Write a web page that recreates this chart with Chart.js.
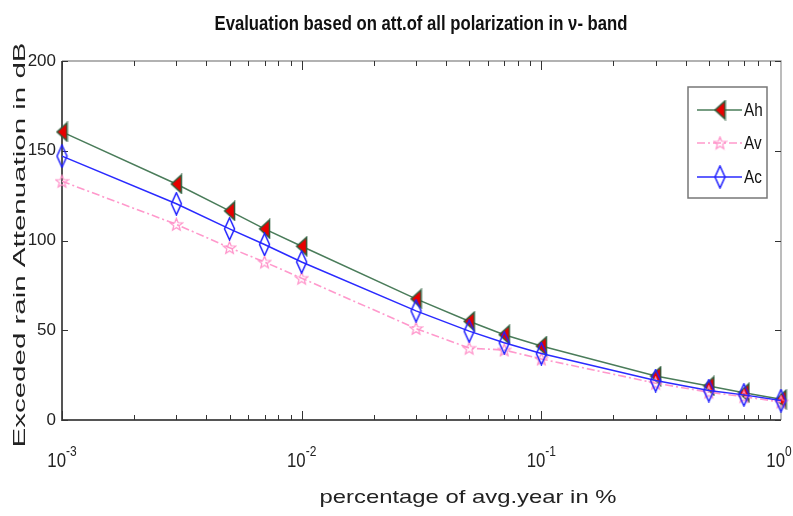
<!DOCTYPE html>
<html>
<head>
<meta charset="utf-8">
<script src="https://cdn.jsdelivr.net/npm/chart.js@4.4.1/dist/chart.umd.min.js"></script>
<style>
  body { margin: 0; background: #fff; }
  canvas { display: block; }
</style>
</head>
<body>
<canvas id="attChart" width="793" height="516"></canvas>
<script>
// percentage of time (x, log scale)
var percentValues = [0.001, 0.003, 0.005, 0.007, 0.01, 0.03, 0.05, 0.07, 0.1, 0.3, 0.5, 0.7, 1];
// attenuation (dB) for each polarization
var ahValues = [160.5, 131.5, 116.5, 106.5, 96.8, 67.5, 55, 47.5, 41.2, 24.5, 19, 15.2, 11.5];
var avValues = [133, 109, 96, 88, 79, 51, 40, 39, 34, 20.5, 15.5, 13, 10];
var acValues = [147, 120.5, 106.5, 97.8, 88, 60.8, 49.5, 43, 37, 22, 16.4, 14, 10.8];
var seriesNames = ['Ah', 'Av', 'Ac'];
var yTickValues = [0, 50, 100, 150, 200];
var xTickValues = [0.001, 0.01, 0.1, 1];
var xTickExponents = ['-3', '-2', '-1', '0'];

var FONT = "'Liberation Sans', Arial, sans-serif";

//-------------
//- MARKERS -
//-------------
function makeTriangle() {
    var c = document.createElement('canvas');
    c.width = 13; c.height = 21;
    var g = c.getContext('2d');
    g.beginPath();
    g.moveTo(1.5, 10.5); g.lineTo(11.5, 1.5); g.lineTo(11.5, 19.5); g.closePath();
    g.fillStyle = '#e80000'; g.fill();
    g.strokeStyle = '#2e5e3c'; g.lineWidth = 1.5; g.stroke();
    return c;
}
function makeDiamond() {
    var c = document.createElement('canvas');
    c.width = 13; c.height = 24;
    var g = c.getContext('2d');
    g.beginPath();
    g.moveTo(6.5, 1); g.lineTo(11.5, 12); g.lineTo(6.5, 23); g.lineTo(1.5, 12); g.closePath();
    g.strokeStyle = '#1f1fff'; g.lineWidth = 1.5; g.stroke();
    return c;
}
function makeStar() {
    var c = document.createElement('canvas');
    c.width = 15; c.height = 15;
    var g = c.getContext('2d');
    g.beginPath();
    for (var i = 0; i < 10; i++) {
        var r = (i % 2 === 0) ? 6.5 : 2.8;
        var a = -Math.PI / 2 + i * Math.PI / 5;
        var px = 7.5 + r * Math.cos(a), py = 8 + r * Math.sin(a);
        if (i === 0) g.moveTo(px, py); else g.lineTo(px, py);
    }
    g.closePath();
    g.strokeStyle = '#ff8fc8'; g.lineWidth = 1.2; g.stroke();
    return c;
}
var triMarker = makeTriangle();
var starMarker = makeStar();
var diaMarker = makeDiamond();

function toPoints(ys) {
    return percentValues.map(function (x, i) { return { x: x, y: ys[i] }; });
}

// stretch text along its direction to a given width (the original uses a condensed font)
function fitText(ctx, text, cx, cy, width, font, rotate) {
    ctx.save();
    ctx.font = font;
    var w = ctx.measureText(text).width;
    ctx.translate(cx, cy);
    if (rotate) ctx.rotate(-Math.PI / 2);
    ctx.scale(width / w, 1);
    ctx.textAlign = 'center';
    ctx.textBaseline = 'middle';
    ctx.fillText(text, 0, 0);
    ctx.restore();
}

//-------------
//- FRAME, TICKS, TITLES, LEGEND -
//-------------
var matlabPlugin = {
    id: 'matlabFrame',
    beforeDatasetsDraw: function (chart) {
        var ctx = chart.ctx, a = chart.chartArea;
        var xs = chart.scales.x, ys = chart.scales.y;
        ctx.save();
        ctx.strokeStyle = '#999';
        ctx.lineWidth = 1.3;
        ctx.beginPath();
        ctx.moveTo(a.left, a.top); ctx.lineTo(a.right, a.top); ctx.lineTo(a.right, a.bottom);
        ctx.stroke();
        ctx.strokeStyle = '#555';
        ctx.lineWidth = 2;
        ctx.beginPath();
        ctx.moveTo(a.left, a.top); ctx.lineTo(a.left, a.bottom); ctx.lineTo(a.right, a.bottom);
        ctx.stroke();

        ctx.lineWidth = 1;
        ctx.strokeStyle = '#333';
        ctx.beginPath();
        for (var d = -3; d < 0; d++) {
            for (var k = 1; k < 10; k++) {
                var px = Math.round(xs.getPixelForValue(k * Math.pow(10, d))) + 0.5;
                var len = (k === 1) ? 9 : 5;
                ctx.moveTo(px, a.bottom); ctx.lineTo(px, a.bottom - len);
                ctx.moveTo(px, a.top); ctx.lineTo(px, a.top + len);
            }
        }
        ys.ticks.forEach(function (t) {
            var py = Math.round(ys.getPixelForValue(t.value)) + 0.5;
            ctx.moveTo(a.left, py); ctx.lineTo(a.left + 6, py);
            ctx.moveTo(a.right, py); ctx.lineTo(a.right - 6, py);
        });
        ctx.stroke();

        // x tick labels: condensed "10" with a raised exponent
        ctx.fillStyle = '#222';
        ctx.textBaseline = 'alphabetic';
        ctx.textAlign = 'left';
        xTickValues.forEach(function (v, i) {
            var px = xs.getPixelForValue(v);
            ctx.save();
            ctx.translate(px + 4, 0);
            ctx.scale(0.8, 1);
            ctx.font = "21px " + FONT;
            var wBase = ctx.measureText('10').width;
            ctx.fillText('10', -wBase, 467);
            ctx.font = "15px " + FONT;
            ctx.fillText(xTickExponents[i], 0, 456);
            ctx.restore();
        });
        ctx.restore();
    },
    afterDraw: function (chart) {
        var ctx = chart.ctx;
        ctx.save();
        ctx.fillStyle = '#111';
        fitText(ctx, 'Evaluation based on att.of all polarization in \u03BD- band',
            421, 24, 413, "bold 20px " + FONT, false);
        ctx.fillStyle = '#222';
        fitText(ctx, 'percentage of avg.year in %', 468, 498, 297, "19px " + FONT, false);
        fitText(ctx, 'Exceded rain Attenuation in dB', 20, 245, 405, "17px " + FONT, true);

        // legend box
        var lx = 688, ly = 87, lw = 79, lh = 111;
        ctx.fillStyle = '#fff';
        ctx.fillRect(lx, ly, lw, lh);
        ctx.strokeStyle = '#777';
        ctx.lineWidth = 1.5;
        ctx.strokeRect(lx, ly, lw, lh);
        var rows = [110, 143, 177];
        var markers = [triMarker, starMarker, diaMarker];
        chart.data.datasets.forEach(function (ds, i) {
            var y = rows[i];
            ctx.save();
            ctx.strokeStyle = ds.borderColor;
            ctx.lineWidth = ds.borderWidth;
            ctx.setLineDash(ds.borderDash || []);
            ctx.beginPath(); ctx.moveTo(697, y); ctx.lineTo(742, y); ctx.stroke();
            ctx.restore();
            var m = markers[i];
            ctx.drawImage(m, 720 - m.width / 2, y - m.height / 2);
            ctx.fillStyle = '#111';
            ctx.save();
            ctx.translate(744, y + 1);
            ctx.scale(0.85, 1);
            ctx.font = "18px " + FONT;
            ctx.textAlign = 'left';
            ctx.textBaseline = 'middle';
            ctx.fillText(ds.label, 0, 0);
            ctx.restore();
        });
        ctx.restore();
    }
};

var chartData = {
    datasets: [
        {
            label: seriesNames[0],
            data: toPoints(ahValues),
            borderColor: '#4a7c5a',
            borderWidth: 1.5,
            pointStyle: triMarker,
            order: 2
        },
        {
            label: seriesNames[1],
            data: toPoints(avValues),
            borderColor: '#ff99cc',
            borderWidth: 1.6,
            borderDash: [8, 3, 2, 3],
            pointStyle: starMarker,
            order: 1
        },
        {
            label: seriesNames[2],
            data: toPoints(acValues),
            borderColor: '#2a2aff',
            borderWidth: 1.5,
            pointStyle: diaMarker,
            order: 0
        }
    ]
};

new Chart(document.getElementById('attChart').getContext('2d'), {
    type: 'line',
    data: chartData,
    options: {
        responsive: false,
        animation: false,
        layout: { padding: { top: 61, right: 12, left: 0, bottom: 0 } },
        elements: { line: { tension: 0, fill: false }, point: { radius: 6 } },
        datasets: { line: { clip: false } },
        plugins: { legend: { display: false }, title: { display: false }, tooltip: { enabled: false } },
        scales: {
            x: {
                type: 'logarithmic',
                min: 0.001,
                max: 1,
                grid: { display: false, drawTicks: false },
                border: { display: false },
                afterBuildTicks: function (scale) {
                    scale.ticks = xTickValues.map(function (v) { return { value: v }; });
                },
                afterFit: function (scale) {
                    scale.height = 96;
                    scale.paddingLeft = 0;
                    scale.paddingRight = 0;
                },
                ticks: { display: false }
            },
            y: {
                min: 0,
                max: 200,
                grid: { display: false, drawTicks: false },
                border: { display: false },
                afterBuildTicks: function (scale) {
                    scale.ticks = yTickValues.map(function (v) { return { value: v }; });
                },
                afterFit: function (scale) {
                    scale.width = 62;
                    scale.paddingTop = 0;
                    scale.paddingBottom = 0;
                },
                ticks: {
                    padding: 6,
                    color: '#222',
                    font: { family: FONT, size: 17 }
                }
            }
        }
    },
    plugins: [matlabPlugin]
});
</script>
</body>
</html>
